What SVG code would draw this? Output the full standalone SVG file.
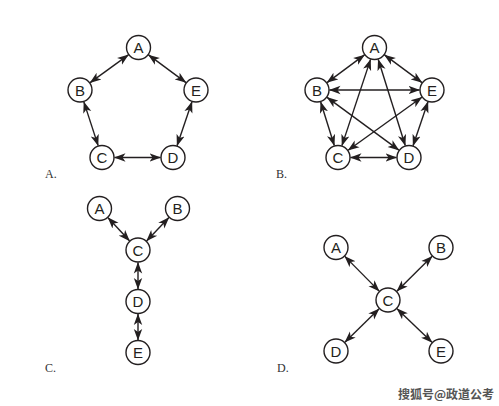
<svg xmlns="http://www.w3.org/2000/svg" width="499" height="406" viewBox="0 0 499 406">
<style>
.n circle{fill:#fff;stroke:#231f20;stroke-width:1.4}
.n text{font-family:"Liberation Sans",Arial,sans-serif;font-size:15px;fill:#231f20;text-anchor:middle;dominant-baseline:central}
#edges line{stroke:#231f20;stroke-width:1.4;marker-start:url(#ah);marker-end:url(#ah)}
.lbl{font-family:"Liberation Serif","Times New Roman",serif;font-size:12px;fill:#333}
.wm{font-family:"Noto Sans CJK SC",sans-serif;font-size:12px;font-weight:bold;fill:#555}
</style>
<defs>
<marker id="ah" markerUnits="userSpaceOnUse" markerWidth="12" markerHeight="10" viewBox="0 0 12 10" refX="11" refY="5" orient="auto-start-reverse">
<path d="M0,0.8 L11.5,5 L0,9.2 L3,5 z" fill="#231f20"/>
</marker>
</defs>
<rect width="499" height="406" fill="#fff"/>
<g id="edges">
<line x1="128.39" y1="54.85" x2="90.11" y2="82.65"/>
<line x1="148.55" y1="54.93" x2="185.95" y2="82.57"/>
<line x1="83.87" y1="101.88" x2="98.13" y2="145.62"/>
<line x1="191.97" y1="101.83" x2="177.03" y2="145.67"/>
<line x1="114.5" y1="157.5" x2="160.5" y2="157.5"/>
<line x1="364.45" y1="54.93" x2="327.05" y2="82.57"/>
<line x1="384.55" y1="54.93" x2="421.95" y2="82.57"/>
<line x1="320.71" y1="101.94" x2="334.29" y2="145.56"/>
<line x1="427.97" y1="101.83" x2="413.03" y2="145.67"/>
<line x1="350.5" y1="157.5" x2="396.5" y2="157.5"/>
<line x1="329.5" y1="90" x2="419.5" y2="90"/>
<line x1="370.56" y1="59.36" x2="341.94" y2="145.64"/>
<line x1="378.24" y1="59.43" x2="405.26" y2="145.57"/>
<line x1="327.08" y1="97.4" x2="398.92" y2="150.1"/>
<line x1="421.85" y1="97.29" x2="348.15" y2="150.21"/>
<line x1="108" y1="217.66" x2="129.5" y2="240.84"/>
<line x1="168.88" y1="217.56" x2="146.62" y2="240.94"/>
<line x1="138" y1="262.5" x2="138" y2="289"/>
<line x1="138" y1="314" x2="138" y2="340"/>
<line x1="344.8" y1="256.38" x2="379.2" y2="291.12"/>
<line x1="432.12" y1="256.3" x2="396.88" y2="291.2"/>
<line x1="379.08" y1="308.75" x2="344.92" y2="342.25"/>
<line x1="396.99" y1="308.67" x2="431.99" y2="342.33"/>
</g>
<g id="a-A" class="n"><circle cx="138.5" cy="47.5" r="12"/><text x="138.5" y="47.5">A</text></g>
<g id="a-B" class="n"><circle cx="80" cy="90" r="12"/><text x="80" y="90">B</text></g>
<g id="a-E" class="n"><circle cx="196" cy="90" r="12"/><text x="196" y="90">E</text></g>
<g id="a-C" class="n"><circle cx="102" cy="157.5" r="12"/><text x="102" y="157.5">C</text></g>
<g id="a-D" class="n"><circle cx="173" cy="157.5" r="12"/><text x="173" y="157.5">D</text></g>
<g id="b-A" class="n"><circle cx="374.5" cy="47.5" r="12"/><text x="374.5" y="47.5">A</text></g>
<g id="b-B" class="n"><circle cx="317" cy="90" r="12"/><text x="317" y="90">B</text></g>
<g id="b-E" class="n"><circle cx="432" cy="90" r="12"/><text x="432" y="90">E</text></g>
<g id="b-C" class="n"><circle cx="338" cy="157.5" r="12"/><text x="338" y="157.5">C</text></g>
<g id="b-D" class="n"><circle cx="409" cy="157.5" r="12"/><text x="409" y="157.5">D</text></g>
<g id="c-A" class="n"><circle cx="99.5" cy="208.5" r="12"/><text x="99.5" y="208.5">A</text></g>
<g id="c-B" class="n"><circle cx="177.5" cy="208.5" r="12"/><text x="177.5" y="208.5">B</text></g>
<g id="c-C" class="n"><circle cx="138" cy="250" r="12"/><text x="138" y="250">C</text></g>
<g id="c-D" class="n"><circle cx="138" cy="301.5" r="12"/><text x="138" y="301.5">D</text></g>
<g id="c-E" class="n"><circle cx="138" cy="352.5" r="12"/><text x="138" y="352.5">E</text></g>
<g id="d-A" class="n"><circle cx="336" cy="247.5" r="12"/><text x="336" y="247.5">A</text></g>
<g id="d-B" class="n"><circle cx="441" cy="247.5" r="12"/><text x="441" y="247.5">B</text></g>
<g id="d-C" class="n"><circle cx="388" cy="300" r="12"/><text x="388" y="300">C</text></g>
<g id="d-D" class="n"><circle cx="336" cy="351" r="12"/><text x="336" y="351">D</text></g>
<g id="d-E" class="n"><circle cx="441" cy="351" r="12"/><text x="441" y="351">E</text></g>
<text class="lbl" x="45" y="178">A.</text>
<text class="lbl" x="276" y="178">B.</text>
<text class="lbl" x="45" y="372">C.</text>
<text class="lbl" x="277" y="372">D.</text>
<text class="wm" x="398" y="399">搜狐号@政道公考</text>
</svg>
